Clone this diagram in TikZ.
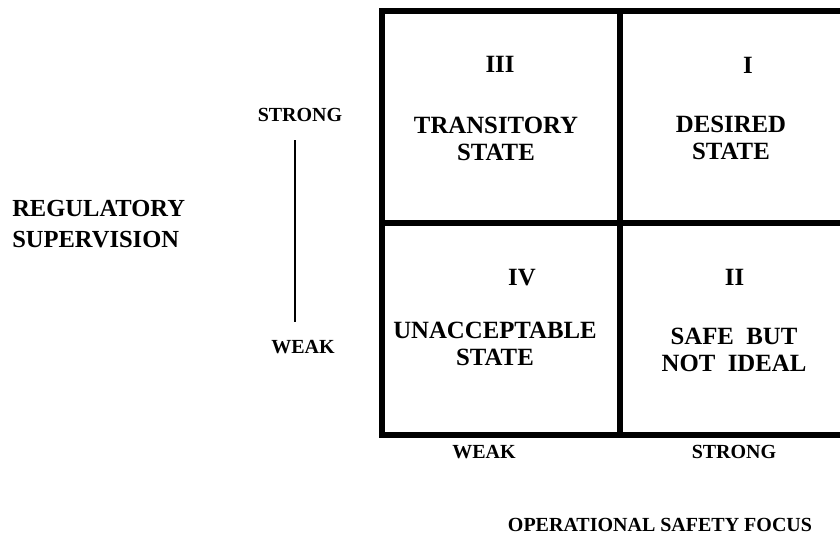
\documentclass[tikz,border=0pt]{standalone}
\usepackage{fontspec}
\setmainfont{Liberation Serif}
\usetikzlibrary{positioning}

\begin{document}
\begin{tikzpicture}[x=0.75pt, y=-0.75pt,
  celltext/.style={inner sep=0pt, align=center, font=\bfseries\fontsize{18.6}{20.25}\selectfont},
  axistext/.style={inner sep=0pt, font=\bfseries\fontsize{15}{18}\selectfont},
  gridline/.style={line width=4.4pt}]
\useasboundingbox (0,0) rectangle (840,537);

% Outer frame (open to the right) and dividers
\draw[gridline] (840,11) -- (382,11) -- (382,435) -- (840,435);
\draw[gridline] (620,11) -- (620,435);
\draw[gridline] (382,223) -- (840,223);

% Quadrant III (top left)
\node[celltext] (qiii) at (500,64.5) {III};
\node[celltext] (transitory) at (496,138.5) {TRANSITORY\\STATE};
% Quadrant I (top right)
\node[celltext] (qi) at (748,65.5) {I};
\node[celltext] (desired) at (731,138) {DESIRED\\STATE};
% Quadrant IV (bottom left)
\node[celltext] (qiv) at (522,278) {IV};
\node[celltext] (unacceptable) at (495,344) {UNACCEPTABLE\\STATE};
% Quadrant II (bottom right)
\node[celltext] (qii) at (734.5,277) {II};
\node[celltext] (safe) at (734,349.5) {SAFE\ \ BUT\\NOT\ \ IDEAL};

% Vertical axis
\node[axistext] (vstrong) at (300,115) {STRONG};
\node[axistext] (vweak) at (303,347) {WEAK};
\coordinate (vtop) at (295,140);
\coordinate (vbot) at (295,322);
\draw[line width=0.9pt] (vtop) -- (vbot);
\node[celltext, anchor=west, align=left, font=\bfseries\fontsize{18.4}{23.6}\selectfont] (regulatory) at (12,224) {REGULATORY\\SUPERVISION};

% Horizontal axis
\node[axistext] (hweak) at (484,452) {WEAK};
\node[axistext] (hstrong) at (734,452) {STRONG};
\node[axistext] (operational) at (660,525) {OPERATIONAL SAFETY FOCUS};
\end{tikzpicture}
\end{document}
